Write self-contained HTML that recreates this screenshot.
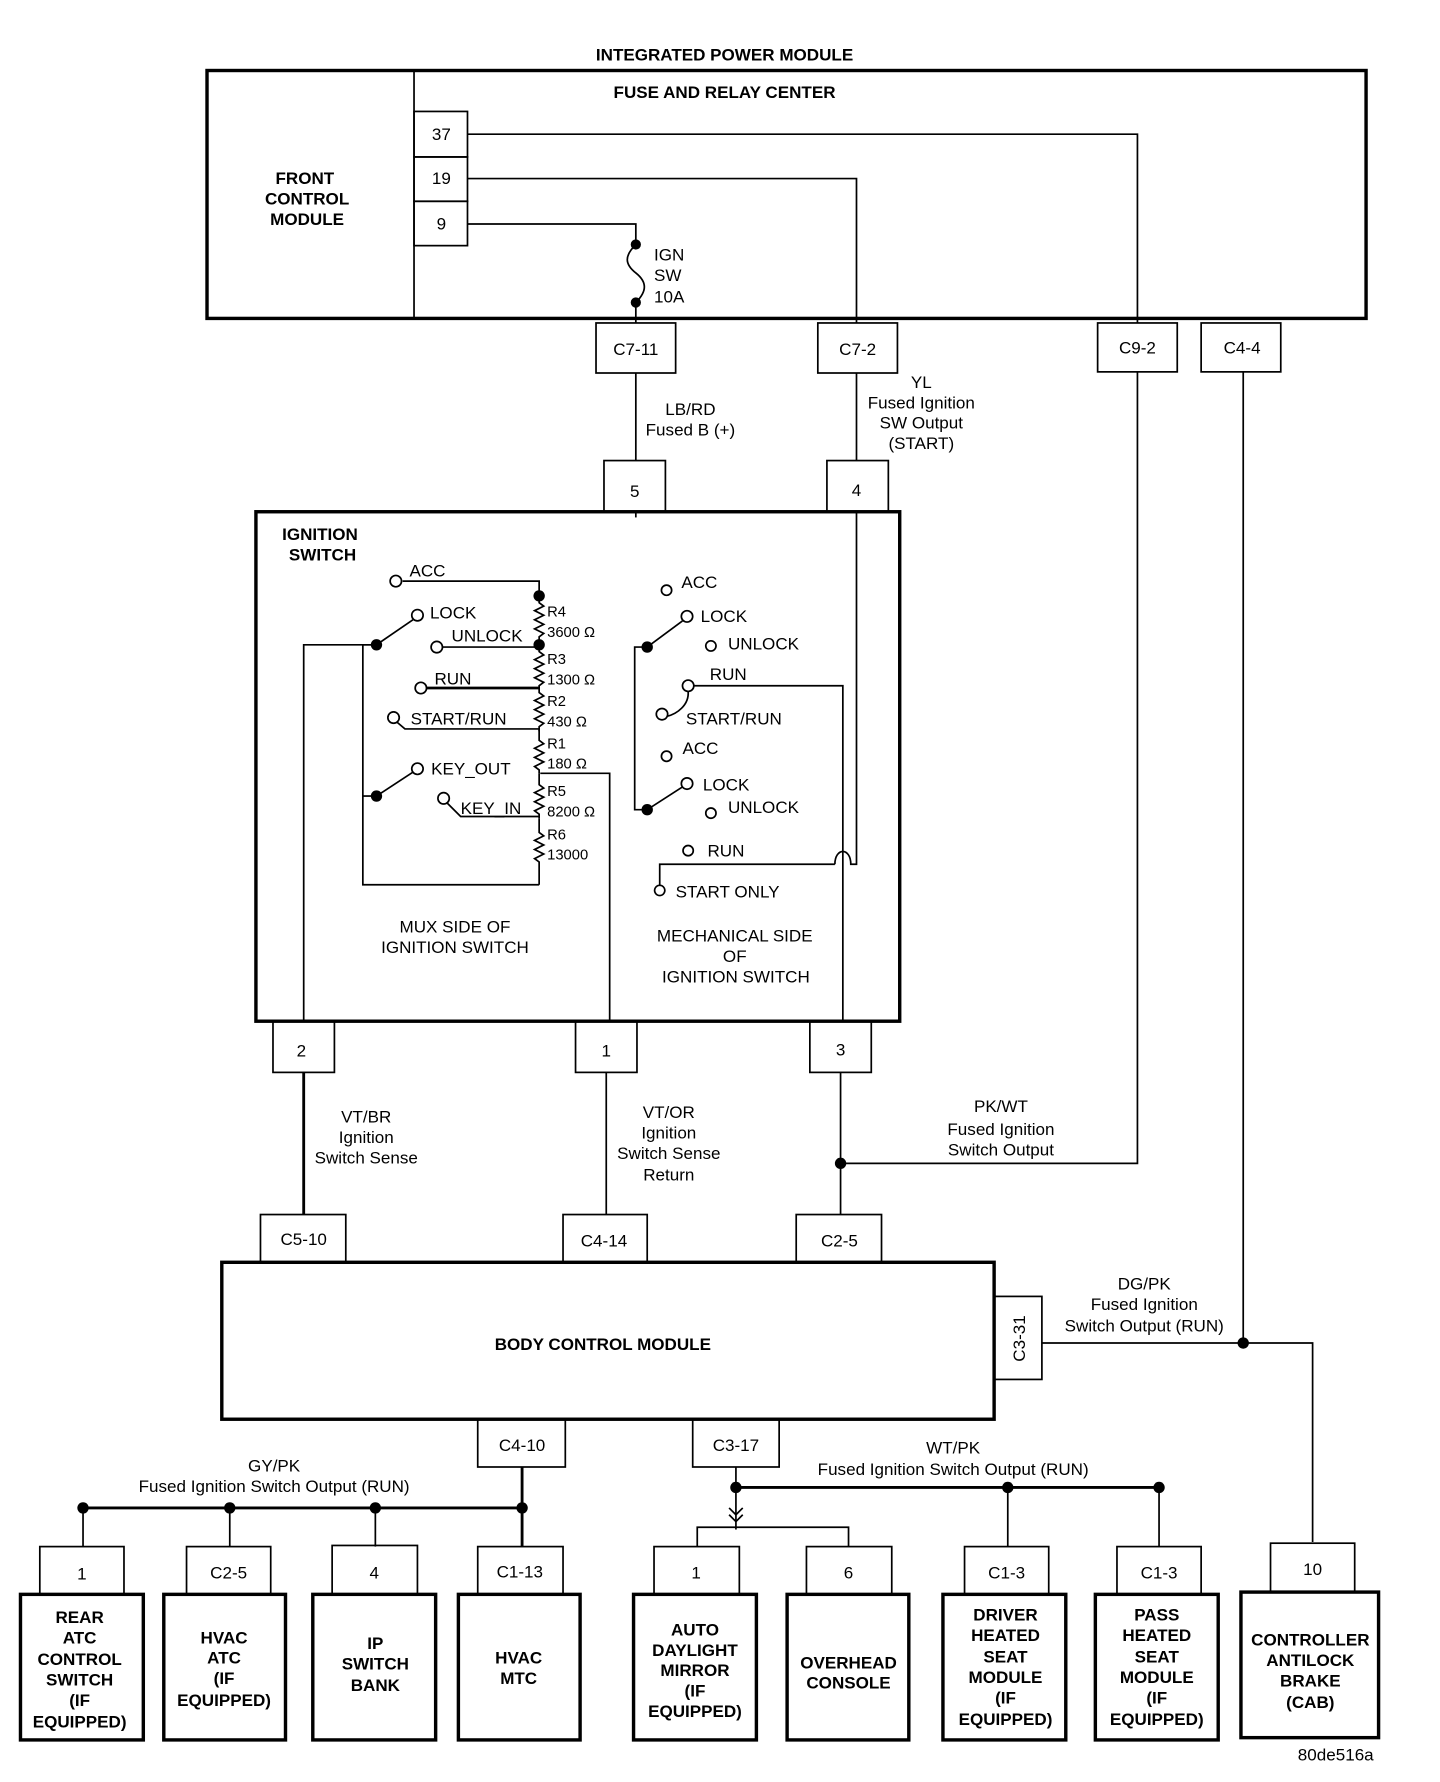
<!DOCTYPE html>
<html><head><style>
html,body{margin:0;padding:0;background:#fff;}
svg{display:block;}
text{font-family:"Liberation Sans",Arial,sans-serif;fill:#000;}
.b{font-weight:bold;font-size:15px;}
.n{font-size:15px;}
.s{font-size:13px;}
</style></head><body>
<svg width="1440" height="1782" viewBox="0 0 1266 1567" preserveAspectRatio="none" xmlns="http://www.w3.org/2000/svg">
<g fill="none" stroke="#000" stroke-width="1.5">
<!-- IPM -->
<rect x="182" y="62" width="1019" height="218" stroke-width="3"/>
<line x1="364" y1="62" x2="364" y2="280"/>
<rect x="364" y="98" width="47" height="40"/>
<rect x="364" y="138" width="47" height="39"/>
<rect x="364" y="177" width="47" height="39"/>
<polyline points="411,118 1000,118 1000,284"/>
<polyline points="411,157 753,157 753,284"/>
<polyline points="411,197 559,197 559,215"/>
<path d="M559,215 C549,225 549,232 559,240 C569,248 569,256 559,266"/>
<line x1="559" y1="266" x2="559" y2="284"/>
<rect x="524" y="284" width="70" height="44"/>
<rect x="719" y="284" width="70" height="44"/>
<rect x="965" y="284" width="70" height="43"/>
<rect x="1056" y="284" width="70" height="43"/>
<line x1="559" y1="328" x2="559" y2="405"/>
<line x1="753" y1="328" x2="753" y2="405"/>
<rect x="531" y="405" width="54" height="45"/>
<rect x="727" y="405" width="54" height="45"/>
<polyline points="1000,327 1000,1023 739,1023"/>
<line x1="1093" y1="327" x2="1093" y2="1181"/>
<polyline points="916,1181 1154,1181 1154,1356"/>
<!-- Ignition switch -->
<rect x="225" y="450" width="566" height="448" stroke-width="3"/>
<line x1="559" y1="450" x2="559" y2="455"/>
<!-- mux -->
<polyline points="354,511 474,511 474,524"/>
<path d="M474,524 l0,6 l4,3 l-8,4 l8,4 l-8,4 l8,4 l-8,4 l8,4 l-4,3 l0,8"/>
<path d="M474,567 l0,6 l4,3 l-8,4 l8,4 l-8,4 l8,4 l-8,4 l8,4 l-4,3 l0,2"/>
<path d="M474,605 l0,4 l4,3 l-8,4 l8,4 l-8,4 l8,4 l-8,4 l8,4 l-4,3 l0,4"/>
<path d="M474,641 l0,10 l4,3 l-8,4 l8,4 l-8,4 l8,4 l-8,4 l4,3 l0,3"/>
<path d="M474,680 l0,10 l4,3 l-8,4 l8,4 l-8,4 l8,4 l-8,4 l4,3 l0,4"/>
<path d="M474,720 l0,12 l4,3 l-8,4 l8,4 l-8,4 l8,4 l-8,4 l4,3 l0,20"/>
<polyline points="267,898 267,567 331,567"/>
<line x1="331" y1="567" x2="363" y2="545"/>
<line x1="389" y1="569" x2="474" y2="569"/>
<line x1="375" y1="605" x2="474" y2="605" stroke-width="2.5"/>
<polyline points="349,635 356,641 474,641"/>
<line x1="331" y1="700" x2="363" y2="679"/>
<polyline points="393,706 405,718 474,718"/>
<polyline points="331,567 319,567 319,778 474,778"/>
<line x1="319" y1="700" x2="331" y2="700"/>
<polyline points="475,680 536,680 536,898"/>
<!-- mech -->
<line x1="569" y1="569" x2="600" y2="546"/>
<line x1="569" y1="712" x2="600" y2="692"/>
<polyline points="569,569 558,569 558,712 569,712"/>
<polyline points="610,603 741,603 741,898"/>
<path d="M605,608 C606,620 595,628 586,630"/>
<polyline points="580,779 580,760 734,760"/>
<path d="M734,760 C734,745 748,745 748,760 L753,760 L753,450"/>
<!-- pins -->
<rect x="240" y="898" width="54" height="45"/>
<rect x="506" y="898" width="54" height="45"/>
<rect x="712" y="898" width="54" height="45"/>
<line x1="267" y1="943" x2="267" y2="1068" stroke-width="2.5"/>
<line x1="533" y1="943" x2="533" y2="1068"/>
<line x1="739" y1="943" x2="739" y2="1068"/>
<rect x="229" y="1068" width="75" height="42"/>
<rect x="495" y="1068" width="74" height="42"/>
<rect x="700" y="1068" width="75" height="42"/>
<rect x="195" y="1110" width="679" height="138" stroke-width="3"/>
<rect x="874" y="1140" width="42" height="73"/>
<rect x="420" y="1248" width="77" height="42"/>
<rect x="609" y="1248" width="76" height="42"/>
<line x1="459" y1="1290" x2="459" y2="1360" stroke-width="2.5"/>
<line x1="73" y1="1326" x2="459" y2="1326" stroke-width="2.5"/>
<line x1="73" y1="1326" x2="73" y2="1360"/>
<line x1="202" y1="1326" x2="202" y2="1360"/>
<line x1="330" y1="1326" x2="330" y2="1360"/>
<line x1="647" y1="1290" x2="647" y2="1345"/>
<line x1="647" y1="1308" x2="1019" y2="1308" stroke-width="2.5"/>
<line x1="886" y1="1308" x2="886" y2="1360"/>
<line x1="1019" y1="1308" x2="1019" y2="1360"/>
<polyline points="641,1326 647,1332 653,1326"/>
<polyline points="641,1332 647,1338 653,1332"/>
<polyline points="613,1360 613,1343 746,1343 746,1360"/>
<rect x="35" y="1360" width="74" height="42"/>
<rect x="164" y="1360" width="74" height="42"/>
<rect x="292" y="1359" width="75" height="43"/>
<rect x="420" y="1360" width="75" height="42"/>
<rect x="575" y="1360" width="75" height="42"/>
<rect x="709" y="1360" width="75" height="42"/>
<rect x="848" y="1360" width="74" height="42"/>
<rect x="982" y="1360" width="74" height="42"/>
<rect x="1117" y="1357" width="74" height="43"/>
<g stroke-width="3">
<rect x="18" y="1402" width="108" height="128"/>
<rect x="144" y="1402" width="107" height="128"/>
<rect x="275" y="1402" width="108" height="128"/>
<rect x="403" y="1402" width="107" height="128"/>
<rect x="557" y="1402" width="108" height="128"/>
<rect x="692" y="1402" width="107" height="128"/>
<rect x="829" y="1402" width="108" height="128"/>
<rect x="963" y="1402" width="108" height="128"/>
<rect x="1091" y="1400" width="121" height="128"/>
</g>
<!-- open circles -->
<g fill="#fff">
<circle cx="348" cy="511" r="5"/><circle cx="367" cy="541" r="5"/><circle cx="384" cy="569" r="5"/>
<circle cx="370" cy="605" r="5"/><circle cx="346" cy="631" r="5"/><circle cx="367" cy="676" r="5"/>
<circle cx="390" cy="702" r="5"/>
<circle cx="586" cy="519" r="4.5"/><circle cx="604" cy="542" r="5"/><circle cx="625" cy="568" r="4.5"/>
<circle cx="605" cy="603" r="5"/><circle cx="582" cy="628" r="5"/><circle cx="586" cy="665" r="4.5"/>
<circle cx="604" cy="689" r="5"/><circle cx="625" cy="715" r="4.5"/><circle cx="605" cy="748" r="4.5"/>
<circle cx="580" cy="783" r="4.5"/>
</g>
</g>
<g fill="#000">
<circle cx="559" cy="215" r="4.5"/><circle cx="559" cy="266" r="4.5"/>
<circle cx="474" cy="524" r="5"/><circle cx="474" cy="567" r="5"/>
<circle cx="331" cy="567" r="5"/><circle cx="331" cy="700" r="5"/>
<circle cx="569" cy="569" r="5"/><circle cx="569" cy="712" r="5"/>
<circle cx="739" cy="1023" r="5"/><circle cx="1093" cy="1181" r="5"/>
<circle cx="73" cy="1326" r="5"/><circle cx="202" cy="1326" r="5"/><circle cx="330" cy="1326" r="5"/><circle cx="459" cy="1326" r="5"/>
<circle cx="647" cy="1308" r="5"/><circle cx="886" cy="1308" r="5"/><circle cx="1019" cy="1308" r="5"/>
</g>
<g text-anchor="middle">
<text class="b" x="637" y="53">INTEGRATED POWER MODULE</text>
<text class="b" x="637" y="86">FUSE AND RELAY CENTER</text>
<text class="b" x="268" y="162">FRONT</text>
<text class="b" x="270" y="180">CONTROL</text>
<text class="b" x="270" y="198">MODULE</text>
<text class="n" x="388" y="123">37</text><text class="n" x="388" y="162">19</text><text class="n" x="388" y="202">9</text>
<text class="n" x="559" y="312">C7-11</text><text class="n" x="754" y="312">C7-2</text>
<text class="n" x="1000" y="311">C9-2</text><text class="n" x="1092" y="311">C4-4</text>
<text class="n" x="607" y="365">LB/RD</text><text class="n" x="607" y="383">Fused B (+)</text>
<text class="n" x="810" y="341">YL</text><text class="n" x="810" y="359">Fused Ignition</text>
<text class="n" x="810" y="377">SW Output</text><text class="n" x="810" y="395">(START)</text>
<text class="n" x="558" y="437">5</text><text class="n" x="753" y="436">4</text>
<text class="n" x="400" y="820">MUX SIDE OF</text><text class="n" x="400" y="838">IGNITION SWITCH</text>
<text class="n" x="646" y="828">MECHANICAL SIDE</text><text class="n" x="646" y="846">OF</text><text class="n" x="647" y="864">IGNITION SWITCH</text>
<text class="n" x="265" y="929">2</text><text class="n" x="533" y="929">1</text><text class="n" x="739" y="928">3</text>
<text class="n" x="322" y="987">VT/BR</text><text class="n" x="322" y="1005">Ignition</text><text class="n" x="322" y="1023">Switch Sense</text>
<text class="n" x="588" y="983">VT/OR</text><text class="n" x="588" y="1001">Ignition</text><text class="n" x="588" y="1019">Switch Sense</text><text class="n" x="588" y="1038">Return</text>
<text class="n" x="880" y="978">PK/WT</text><text class="n" x="880" y="998">Fused Ignition</text><text class="n" x="880" y="1016">Switch Output</text>
<text class="n" x="267" y="1095">C5-10</text><text class="n" x="531" y="1096">C4-14</text><text class="n" x="738" y="1096">C2-5</text>
<text class="b" x="530" y="1187">BODY CONTROL MODULE</text>
<text class="n" x="1006" y="1134">DG/PK</text><text class="n" x="1006" y="1152">Fused Ignition</text><text class="n" x="1006" y="1171">Switch Output (RUN)</text>
<text class="n" x="459" y="1276">C4-10</text><text class="n" x="647" y="1276">C3-17</text>
<text class="n" x="241" y="1294">GY/PK</text><text class="n" x="241" y="1312">Fused Ignition Switch Output (RUN)</text>
<text class="n" x="838" y="1278">WT/PK</text><text class="n" x="838" y="1297">Fused Ignition Switch Output (RUN)</text>
<text class="n" x="72" y="1389">1</text><text class="n" x="201" y="1388">C2-5</text><text class="n" x="329" y="1388">4</text>
<text class="n" x="457" y="1387">C1-13</text><text class="n" x="612" y="1388">1</text><text class="n" x="746" y="1388">6</text>
<text class="n" x="885" y="1388">C1-3</text><text class="n" x="1019" y="1388">C1-3</text><text class="n" x="1154" y="1385">10</text>
<g class="b">
<text x="70" y="1427" class="b">REAR</text><text x="70" y="1445" class="b">ATC</text><text x="70" y="1464" class="b">CONTROL</text><text x="70" y="1482" class="b">SWITCH</text><text x="70" y="1500" class="b">(IF</text><text x="70" y="1519" class="b">EQUIPPED)</text>
<text x="197" y="1445" class="b">HVAC</text><text x="197" y="1463" class="b">ATC</text><text x="197" y="1481" class="b">(IF</text><text x="197" y="1500" class="b">EQUIPPED)</text>
<text x="330" y="1450" class="b">IP</text><text x="330" y="1468" class="b">SWITCH</text><text x="330" y="1487" class="b">BANK</text>
<text x="456" y="1463" class="b">HVAC</text><text x="456" y="1481" class="b">MTC</text>
<text x="611" y="1438" class="b">AUTO</text><text x="611" y="1456" class="b">DAYLIGHT</text><text x="611" y="1474" class="b">MIRROR</text><text x="611" y="1492" class="b">(IF</text><text x="611" y="1510" class="b">EQUIPPED)</text>
<text x="746" y="1467" class="b">OVERHEAD</text><text x="746" y="1485" class="b">CONSOLE</text>
<text x="884" y="1425" class="b">DRIVER</text><text x="884" y="1443" class="b">HEATED</text><text x="884" y="1462" class="b">SEAT</text><text x="884" y="1480" class="b">MODULE</text><text x="884" y="1498" class="b">(IF</text><text x="884" y="1517" class="b">EQUIPPED)</text>
<text x="1017" y="1425" class="b">PASS</text><text x="1017" y="1443" class="b">HEATED</text><text x="1017" y="1462" class="b">SEAT</text><text x="1017" y="1480" class="b">MODULE</text><text x="1017" y="1498" class="b">(IF</text><text x="1017" y="1517" class="b">EQUIPPED)</text>
<text x="1152" y="1447" class="b">CONTROLLER</text><text x="1152" y="1465" class="b">ANTILOCK</text><text x="1152" y="1483" class="b">BRAKE</text><text x="1152" y="1502" class="b">(CAB)</text>
</g>
</g>
<text class="b" x="248" y="475">IGNITION</text><text class="b" x="254" y="493">SWITCH</text>
<text class="n" x="575" y="229">IGN</text><text class="n" x="575" y="247">SW</text><text class="n" x="575" y="266">10A</text>
<text class="n" x="360" y="507">ACC</text><text class="n" x="378" y="544">LOCK</text><text class="n" x="397" y="564">UNLOCK</text>
<text class="n" x="382" y="602">RUN</text><text class="n" x="361" y="637">START/RUN</text>
<text class="n" x="379" y="681">KEY_OUT</text><text class="n" x="405" y="716">KEY_IN</text>
<text class="s" x="481" y="542">R4</text><text class="s" x="481" y="560">3600 Ω</text>
<text class="s" x="481" y="584">R3</text><text class="s" x="481" y="602">1300 Ω</text>
<text class="s" x="481" y="621">R2</text><text class="s" x="481" y="639">430 Ω</text>
<text class="s" x="481" y="658">R1</text><text class="s" x="481" y="676">180 Ω</text>
<text class="s" x="481" y="700">R5</text><text class="s" x="481" y="718">8200 Ω</text>
<text class="s" x="481" y="738">R6</text><text class="s" x="481" y="756">13000</text>
<text class="n" x="599" y="517">ACC</text><text class="n" x="616" y="547">LOCK</text><text class="n" x="640" y="571">UNLOCK</text>
<text class="n" x="624" y="598">RUN</text><text class="n" x="603" y="637">START/RUN</text>
<text class="n" x="600" y="663">ACC</text><text class="n" x="618" y="695">LOCK</text><text class="n" x="640" y="715">UNLOCK</text>
<text class="n" x="622" y="753">RUN</text><text class="n" x="594" y="789">START ONLY</text>
<text class="n" x="1141" y="1548">80de516a</text>
<text class="n" transform="translate(901,1177) rotate(-90)" text-anchor="middle">C3-31</text>
</svg>
</body></html>
